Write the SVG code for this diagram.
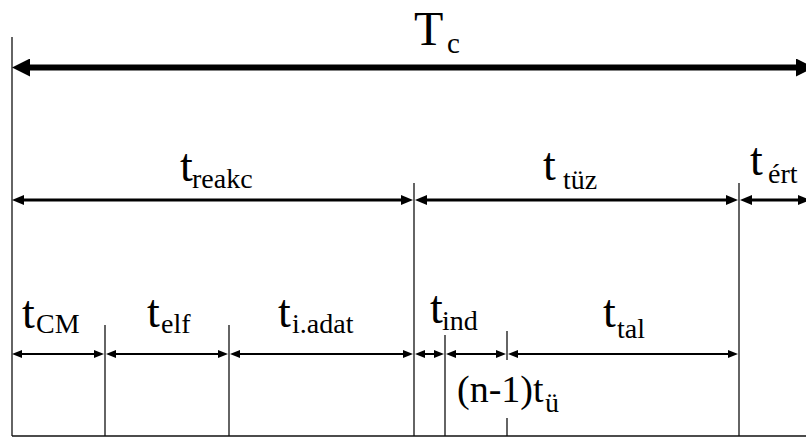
<svg xmlns="http://www.w3.org/2000/svg" width="806" height="437" viewBox="0 0 806 437">
<style>
.bg{fill:#fff}
.v{stroke:#111;stroke-width:1.3;fill:none}
.a1{stroke:#000;stroke-width:6;marker-start:url(#h1);marker-end:url(#h1)}
.a2{stroke:#000;stroke-width:3;marker-start:url(#h2);marker-end:url(#h2)}
.a3{stroke:#000;stroke-width:2;marker-start:url(#h3);marker-end:url(#h3)}
.m{font-size:46px}
.s{font-size:28px}
</style>
<defs>
<marker id="h1" markerUnits="userSpaceOnUse" markerWidth="18" markerHeight="18" viewBox="0 0 18 18" refX="6" refY="9" orient="auto-start-reverse"><path d="M0,0 L18,9 L0,18 z" fill="#000"/></marker>
<marker id="h2" markerUnits="userSpaceOnUse" markerWidth="12" markerHeight="10" viewBox="0 0 12 10" refX="4" refY="5" orient="auto-start-reverse"><path d="M0,0 L12,5 L0,10 z" fill="#000"/></marker>
<marker id="h3" markerUnits="userSpaceOnUse" markerWidth="10" markerHeight="8" viewBox="0 0 10 8" refX="3" refY="4" orient="auto-start-reverse"><path d="M0,0 L10,4 L0,8 z" fill="#000"/></marker>
</defs>
<rect class="bg" x="0" y="0" width="806" height="437"/>
<g id="guides">
<line class="v" x1="12" y1="37" x2="12" y2="436"/>
<line class="v" x1="414" y1="183" x2="414" y2="436"/>
<line class="v" x1="739" y1="183" x2="739" y2="436"/>
<line class="v" x1="105" y1="325" x2="105" y2="436"/>
<line class="v" x1="229" y1="325" x2="229" y2="436"/>
<line class="v" x1="445" y1="335" x2="445" y2="436"/>
<line class="v" x1="507" y1="331" x2="507" y2="360"/>
<line class="v" x1="507" y1="418" x2="507" y2="436"/>
<line class="v" x1="12" y1="436" x2="806" y2="436"/>
</g>
<g id="connectors">
<line class="a1" x1="24" y1="67.5" x2="802" y2="67.5"/>
<line class="a2" x1="20" y1="200" x2="405" y2="200"/>
<line class="a2" x1="423" y1="200" x2="730" y2="200"/>
<line class="a2" x1="748" y1="200" x2="802" y2="200"/>
<line class="a3" x1="19" y1="354" x2="97" y2="354"/>
<line class="a3" x1="113" y1="354" x2="221" y2="354"/>
<line class="a3" x1="237" y1="354" x2="406" y2="354"/>
<line class="a3" x1="422" y1="354" x2="437" y2="354"/>
<line class="a3" x1="453" y1="354" x2="499" y2="354"/>
<line class="a3" x1="515" y1="354" x2="731" y2="354"/>
</g>
<g fill="#000" font-family="Liberation Serif, Times New Roman, serif">
<g id="Tc"><text x="414" y="45" font-size="48">T<tspan font-size="29" x="447" y="53">c</tspan></text></g>
<g id="treakc"><text class="m" x="180" y="181">t<tspan class="s" x="192" y="188">reakc</tspan></text></g>
<g id="ttuz"><text class="m" x="543" y="180">t<tspan class="s" x="563" y="189">tüz</tspan></text></g>
<g id="tert"><text class="m" x="750" y="175">t<tspan class="s" x="768" y="183">ért</tspan></text></g>
<g id="tCM"><text class="m" x="22" y="328">t<tspan class="s" x="36" y="333">CM</tspan></text></g>
<g id="telf"><text class="m" x="147" y="327">t<tspan class="s" x="161" y="333">elf</tspan></text></g>
<g id="tiadat"><text class="m" x="278" y="327">t<tspan class="s" x="292" y="333">i.adat</tspan></text></g>
<g id="tind"><text class="m" x="430" y="323">t<tspan class="s" x="442" y="330">ind</tspan></text></g>
<g id="ttal"><text class="m" x="603" y="327">t<tspan class="s" x="617" y="338">tal</tspan></text></g>
<g id="tu"><text x="457" y="402" font-size="38">(n-1)t<tspan font-size="28" x="545" y="412">ü</tspan></text></g>
</g>
</svg>
